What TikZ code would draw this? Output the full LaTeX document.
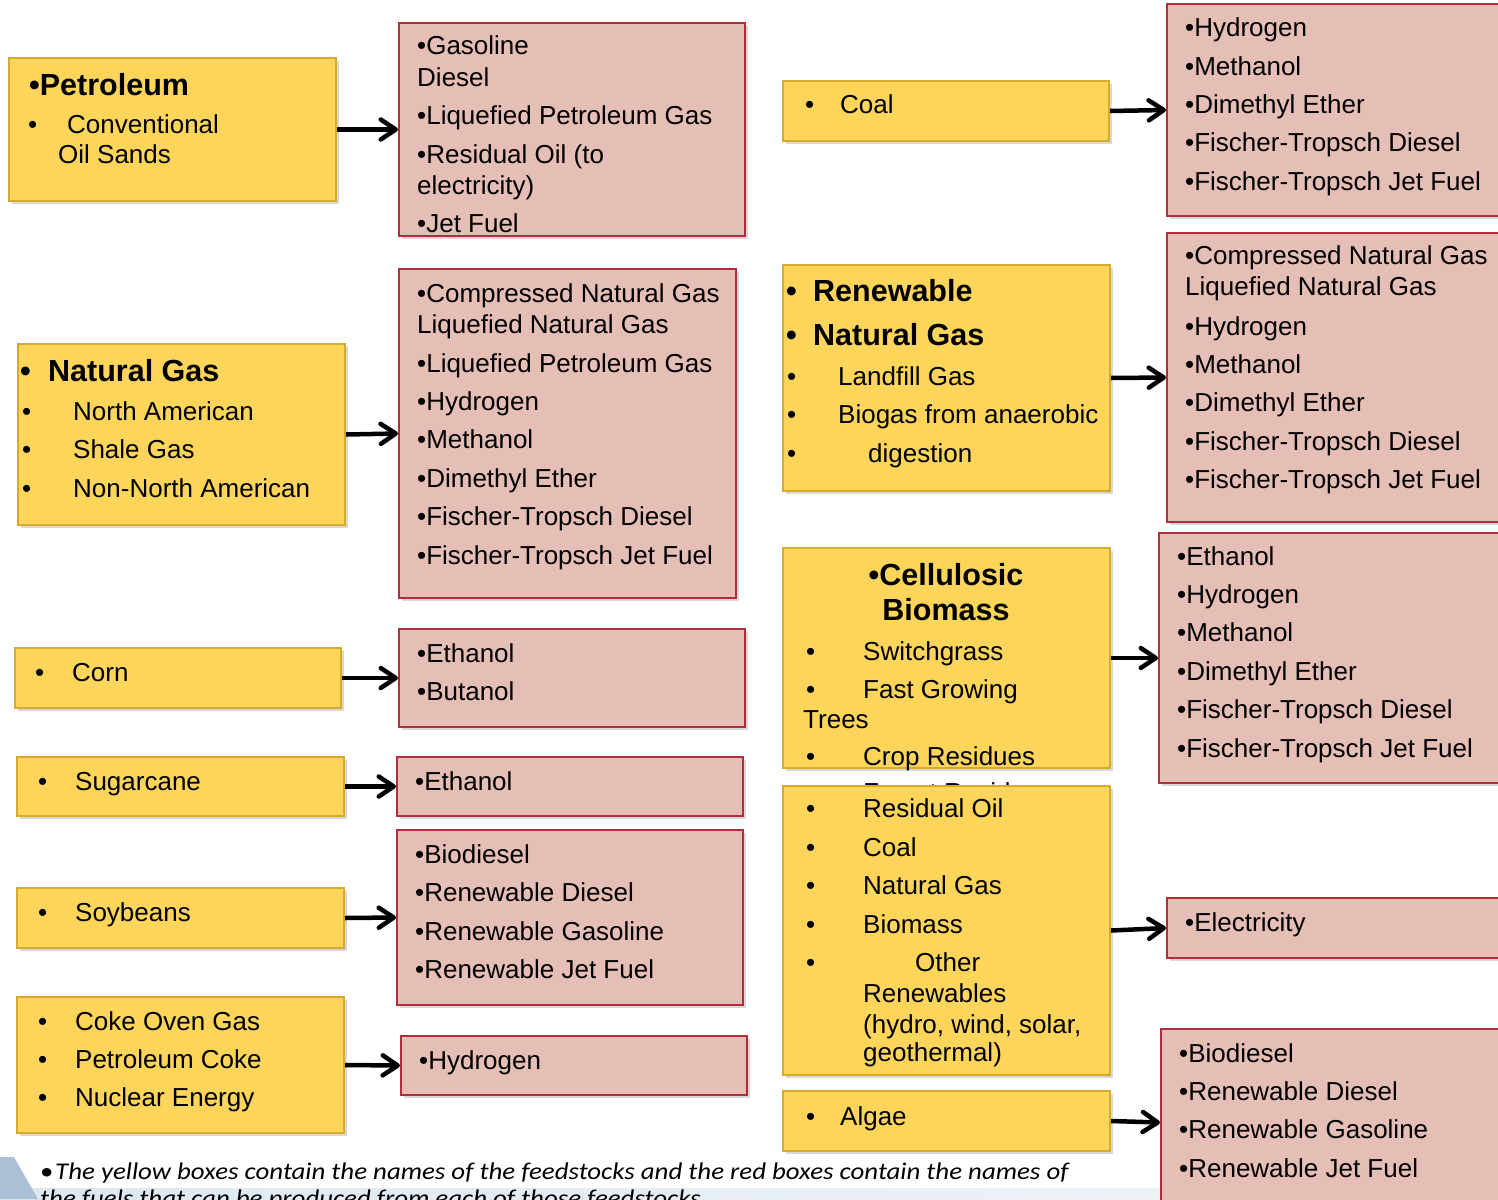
\documentclass[tikz,border=0pt]{standalone}
\usepackage{fontspec}
\setmainfont{Liberation Sans}
\newfontfamily\notefont[FakeStretch=1.12]{Carlito}
\usetikzlibrary{arrows.meta,shadows}
\definecolor{yfill}{RGB}{253,213,90}
\definecolor{ydraw}{RGB}{214,170,45}
\definecolor{rfill}{RGB}{229,190,181}
\definecolor{rdraw}{RGB}{178,44,58}
\definecolor{bluebar}{RGB}{170,192,214}
\definecolor{blueband}{RGB}{222,231,240}
\newcounter{tlc}
\newcommand\tx[4][txt]{\stepcounter{tlc}\node[#1] (tl\thetlc) at (#2,#3) {#4};}
\newcommand\bt[4]{\tx{#1}{#3}{•}\tx{#2}{#3}{#4}}
\newcommand\boxat[6]{\node[#1, minimum width={#5pt-#3pt}, minimum height={#6pt-#4pt}] (#2) at (#3,#4) {};}
\tikzset{
  box/.style={anchor=north west, inner sep=0pt, line width=2pt,
    drop shadow={shadow xshift=3pt, shadow yshift=-3pt, opacity=0.3}},
  ybox/.style={box, fill=yfill, draw=ydraw},
  rbox/.style={box, fill=rfill, draw=rdraw},
  txt/.style={anchor=base west, inner sep=0pt, font=\fontsize{26}{31}\selectfont},
  btxt/.style={txt, font=\fontsize{30.5}{36}\selectfont\bfseries},
  ctxt/.style={btxt, anchor=base},
  arr/.style={line width=4.5pt, -{Straight Barb[length=15pt,width=20pt,round]}},
}
\begin{document}
\begin{tikzpicture}[x=1pt,y=-1pt]
\useasboundingbox (0,0) rectangle (1498,1199);
\fill[white] (0,0) rectangle (1498,1199);
% bottom decoration
\shade[left color=blueband, right color=blueband!40] (0,1188) rectangle (1498,1199);
\fill[bluebar] (0,1157) -- (14,1157) -- (38,1199) -- (0,1199) -- cycle;

% ---------- left column ----------
\boxat{ybox}{petro}{8}{57}{335}{200}
\tx[btxt]{29}{95}{•Petroleum}
\bt{28}{67}{133}{Conventional}
\tx{58}{163}{Oil Sands}

\boxat{ybox}{natgas}{17}{343}{344}{524}
\tx[btxt]{20}{381}{•}\tx[btxt]{48}{381}{Natural Gas}
\bt{22}{73}{420}{North American}
\bt{22}{73}{458}{Shale Gas}
\bt{22}{73}{497}{Non-North American}

\boxat{ybox}{corn}{14}{647}{340}{707}
\bt{35}{72}{681}{Corn}

\boxat{ybox}{sugar}{16}{756}{343}{815}
\bt{38}{75}{790}{Sugarcane}

\boxat{ybox}{soy}{16}{887}{343}{947}
\bt{38}{75}{921}{Soybeans}

\boxat{ybox}{coke}{16}{996}{343}{1132}
\bt{38}{75}{1030}{Coke Oven Gas}
\bt{38}{75}{1068}{Petroleum Coke}
\bt{38}{75}{1106}{Nuclear Energy}

% ---------- middle red column ----------
\boxat{rbox}{rpetro}{398}{22}{744}{235}
\tx{417}{55}{•Gasoline}
\tx{417}{86}{Diesel}
\tx{417}{124}{•Liquefied Petroleum Gas}
\tx{417}{163}{•Residual Oil (to}
\tx{417}{194}{electricity)}
\tx{417}{232}{•Jet Fuel}

\boxat{rbox}{rnatgas}{398}{268}{735}{597}
\tx{417}{302}{•Compressed Natural Gas}
\tx{417}{333}{Liquefied Natural Gas}
\tx{417}{372}{•Liquefied Petroleum Gas}
\tx{417}{410}{•Hydrogen}
\tx{417}{448}{•Methanol}
\tx{417}{487}{•Dimethyl Ether}
\tx{417}{525}{•Fischer-Tropsch Diesel}
\tx{417}{564}{•Fischer-Tropsch Jet Fuel}

\boxat{rbox}{rcorn}{398}{628}{744}{726}
\tx{417}{662}{•Ethanol}
\tx{417}{700}{•Butanol}

\boxat{rbox}{rsugar}{396}{756}{742}{815}
\tx{415}{790}{•Ethanol}

\boxat{rbox}{rsoy}{396}{829}{742}{1004}
\tx{415}{863}{•Biodiesel}
\tx{415}{901}{•Renewable Diesel}
\tx{415}{940}{•Renewable Gasoline}
\tx{415}{978}{•Renewable Jet Fuel}

\boxat{rbox}{rcoke}{400}{1035}{746}{1094}
\tx{419}{1069}{•Hydrogen}

% ---------- right yellow column ----------
\boxat{ybox}{coal}{782}{80}{1108}{140}
\bt{805}{840}{113}{Coal}

\boxat{ybox}{rng}{782}{264}{1109}{490}
\tx[btxt]{786}{301}{•}\tx[btxt]{813}{301}{Renewable}
\tx[btxt]{786}{345}{•}\tx[btxt]{813}{345}{Natural Gas}
\bt{787}{838}{385}{Landfill Gas}
\bt{787}{838}{423}{Biogas from anaerobic}
\bt{787}{868}{462}{digestion}

\boxat{ybox}{cell}{782}{547}{1109}{767}
\tx[ctxt]{946}{585}{•Cellulosic}
\tx[ctxt]{946}{620}{Biomass}
\bt{806}{863}{660}{Switchgrass}
\bt{806}{863}{698}{Fast Growing}
\tx{803}{728}{Trees}
\bt{806}{863}{765}{Crop Residues}
\tx{863}{801}{Forest Residues}

\boxat{ybox}{resid}{782}{785}{1109}{1074}
\bt{806}{863}{817}{Residual Oil}
\bt{806}{863}{856}{Coal}
\bt{806}{863}{894}{Natural Gas}
\bt{806}{863}{933}{Biomass}
\bt{806}{915}{971}{Other}
\tx{863}{1002}{Renewables}
\tx{863}{1033}{(hydro, wind, solar,}
\tx{863}{1061}{geothermal)}

\boxat{ybox}{algae}{782}{1090}{1109}{1150}
\bt{806}{840}{1125}{Algae}

% ---------- right red column ----------
\boxat{rbox}{rcoal}{1166}{3}{1515}{215}
\tx{1185}{37}{•Hydrogen}
\tx{1185}{75}{•Methanol}
\tx{1185}{113}{•Dimethyl Ether}
\tx{1185}{151}{•Fischer-Tropsch Diesel}
\tx{1185}{190}{•Fischer-Tropsch Jet Fuel}

\boxat{rbox}{rrng}{1166}{232}{1515}{521}
\tx{1185}{264}{•Compressed Natural Gas}
\tx{1185}{295}{Liquefied Natural Gas}
\tx{1185}{335}{•Hydrogen}
\tx{1185}{373}{•Methanol}
\tx{1185}{411}{•Dimethyl Ether}
\tx{1185}{450}{•Fischer-Tropsch Diesel}
\tx{1185}{488}{•Fischer-Tropsch Jet Fuel}

\boxat{rbox}{rcell}{1158}{532}{1515}{782}
\tx{1177}{565}{•Ethanol}
\tx{1177}{603}{•Hydrogen}
\tx{1177}{641}{•Methanol}
\tx{1177}{680}{•Dimethyl Ether}
\tx{1177}{718}{•Fischer-Tropsch Diesel}
\tx{1177}{757}{•Fischer-Tropsch Jet Fuel}

\boxat{rbox}{relec}{1166}{897}{1515}{957}
\tx{1185}{931}{•Electricity}

\boxat{rbox}{ralgae}{1160}{1028}{1515}{1215}
\tx{1179}{1062}{•Biodiesel}
\tx{1179}{1100}{•Renewable Diesel}
\tx{1179}{1138}{•Renewable Gasoline}
\tx{1179}{1177}{•Renewable Jet Fuel}

% ---------- arrows ----------
\draw[arr] (petro.east) -- (rpetro.west);
\draw[arr] (natgas.east) -- (rnatgas.west);
\draw[arr] (corn.east) -- (rcorn.west);
\draw[arr] (sugar.east) -- (rsugar.west);
\draw[arr] (soy.east) -- (rsoy.west);
\draw[arr] (coke.east) -- (rcoke.west);
\draw[arr] (coal.east) -- (rcoal.west);
\draw[arr] (rng.east) -- (rrng.west);
\draw[arr] (cell.east) -- (rcell.west);
\draw[arr] (resid.east) -- (relec.west);
\draw[arr] (algae.east) -- (ralgae.west);

% ---------- footnote ----------
\node[anchor=base west, inner sep=0pt, font=\notefont\fontsize{24}{28}\selectfont] (noteb) at (40,1179) {•};
\node[anchor=base west, inner sep=0pt, font=\notefont\itshape\fontsize{24}{28}\selectfont] (note1) at (55,1179) {The yellow boxes contain the names of the feedstocks and the red boxes contain the names of};
\node[anchor=base west, inner sep=0pt, font=\notefont\itshape\fontsize{24}{28}\selectfont] (note2) at (40,1206) {the fuels that can be produced from each of those feedstocks.};
\end{tikzpicture}
\end{document}
